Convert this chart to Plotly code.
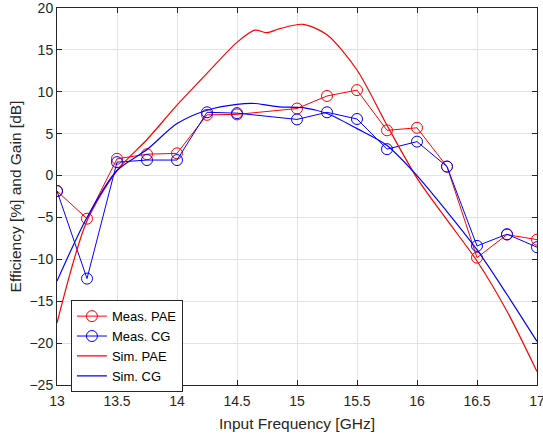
import plotly.graph_objects as go

freq_meas = [13, 13.25, 13.5, 13.75, 14, 14.25, 14.5, 14.75, 15, 15.25, 15.5, 15.75, 16, 16.25, 16.5, 16.75, 17]
meas_pae = [-1.85, -5.15, 2.0, 2.55, 2.65, 7.25, 7.3, None, 8.0, 9.5, 10.2, 5.4, 5.7, 1.07, -9.8, -7.05, -7.65]
meas_cg = [-1.85, -12.3, 1.6, 1.85, 1.85, 7.55, 7.45, None, 6.7, 7.55, 6.75, 3.15, 4.05, 1.07, -8.4, -7.0, -8.55]

freq_sim = [13, 13.25, 13.5, 13.75, 14, 14.25, 14.5, 14.65, 14.75, 14.85, 15.05, 15.25, 15.5, 15.75, 16, 16.25, 16.5, 16.75, 17]
sim_pae = [-17.6, -5.4, 0.6, 4.3, 8.4, 12.2, 15.9, 17.35, 17.05, 17.5, 18.05, 16.8, 12.6, 6.0, -0.3, -5.3, -10.2, -16.2, -23.4]
sim_cg = [-12.6, -5.0, 0.6, 3.1, 6.2, 7.8, 8.5, 8.6, 8.4, 8.2, 8.1, 7.4, 5.6, 3.6, 0.0, -4.3, -8.85, -14.2, -19.8]

x_ticks = [13, 13.5, 14, 14.5, 15, 15.5, 16, 16.5, 17]
x_ticklabels = ["13", "13.5", "14", "14.5", "15", "15.5", "16", "16.5", "17"]
y_ticks = [-25, -20, -15, -10, -5, 0, 5, 10, 15, 20]


def clean(x, y):
    pts = [(a, b) for a, b in zip(x, y) if b is not None]
    return [p[0] for p in pts], [p[1] for p in pts]


fx1, fy1 = clean(freq_meas, meas_pae)
fx2, fy2 = clean(freq_meas, meas_cg)

RED = "#ff0000"
BLUE = "#0000ff"
FONT = "Liberation Sans, Arial, sans-serif"

fig = go.Figure()
fig.add_trace(go.Scatter(x=fx1, y=fy1, mode="lines+markers", name="Meas. PAE",
                         line=dict(color=RED, width=1),
                         marker=dict(symbol="circle-open", size=11, color=RED, line=dict(width=1))))
fig.add_trace(go.Scatter(x=fx2, y=fy2, mode="lines+markers", name="Meas. CG",
                         line=dict(color=BLUE, width=1),
                         marker=dict(symbol="circle-open", size=11, color=BLUE, line=dict(width=1))))
fig.add_trace(go.Scatter(x=freq_sim, y=sim_pae, mode="lines", name="Sim. PAE",
                         line=dict(color=RED, width=1.2, shape="spline", smoothing=0.8)))
fig.add_trace(go.Scatter(x=freq_sim, y=sim_cg, mode="lines", name="Sim. CG",
                         line=dict(color=BLUE, width=1.2, shape="spline", smoothing=0.8)))

axis_common = dict(
    showgrid=True, gridcolor="#e3e3e3", gridwidth=1,
    showline=True, linecolor="#262626", linewidth=1, mirror="ticks",
    ticks="inside", ticklen=5, tickcolor="#262626",
    tickfont=dict(family=FONT, size=14, color="#262626"),
    zeroline=False, automargin=False, ticklabeloverflow="allow",
)

fig.update_layout(
    width=543, height=435,
    margin=dict(l=57, r=6, t=8, b=50),
    paper_bgcolor="white", plot_bgcolor="white",
    font=dict(family=FONT, color="#262626"),
    xaxis=dict(range=[13, 17], tickmode="array",
               tickvals=x_ticks, ticktext=x_ticklabels,
               ticklabelstandoff=3,
               title=dict(text="Input Frequency [GHz]", font=dict(size=15.5), standoff=10),
               **axis_common),
    yaxis=dict(range=[-25, 20], tickmode="array",
               tickvals=y_ticks,
               title=dict(text="Efficiency [%] and Gain [dB]", font=dict(size=15.5), standoff=4),
               **axis_common),
    legend=dict(x=0.029, y=0.225, xanchor="left", yanchor="top",
                bgcolor="white", bordercolor="#262626", borderwidth=1,
                font=dict(size=13, color="#000000"),
                tracegroupgap=0, itemwidth=30),
    showlegend=True,
)

fig.write_html("out.html", config={"displayModeBar": False},
               post_script="document.body.style.margin='0';document.body.style.overflow='hidden';")
